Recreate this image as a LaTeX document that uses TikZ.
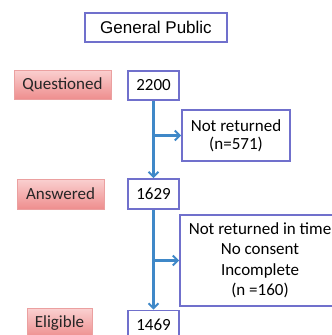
\documentclass[tikz,border=0pt]{standalone}
\usepackage{fontspec}
\setmainfont{Carlito}
\newfontfamily\arialf{Liberation Sans}
\usetikzlibrary{arrows.meta}
\definecolor{boxblue}{HTML}{7070CC}
\definecolor{arrowblue}{HTML}{3F88C8}
\definecolor{redtop}{HTML}{FAD0D0}
\definecolor{redbot}{HTML}{EE8E8E}
\definecolor{redborder}{HTML}{EBA0A0}
\begin{document}
\begin{tikzpicture}[x=1pt,y=-1pt,
  wbox/.style={draw=boxblue,line width=1.6pt,fill=white,inner sep=0pt,
    font=\fontsize{17}{18}\selectfont,text=black},
  rbox/.style={draw=redborder,line width=1pt,top color=redtop,bottom color=redbot,
    inner sep=0pt,font=\fontsize{17}{18}\selectfont,text=black!85},
  flow/.style={draw=arrowblue,line width=2.2pt,-{Straight Barb[length=5pt,width=10pt,line width=2pt]}}]
\clip (0,0) rectangle (332,335);
\fill[white] (0,0) rectangle (332,335);
\node[wbox,minimum width=142pt,minimum height=29pt,font=\arialf\fontsize{17}{18}\selectfont] (gp) at (156,27.5) {General Public};
\node[rbox,minimum width=97pt,minimum height=29pt] (q) at (62.5,84.5) {Questioned};
\node[wbox,minimum width=51pt,minimum height=29pt] (n2200) at (153.5,85.5) {2200};
\node[wbox,minimum width=108pt,minimum height=51pt,align=center] (nr) at (236,135.5) {Not returned\\(n=571)};
\node[rbox,minimum width=87pt,minimum height=30pt] (ans) at (60.5,194) {Answered};
\node[wbox,minimum width=51pt,minimum height=30pt] (n1629) at (153.5,194) {1629};
\node[wbox,minimum width=160pt,minimum height=91pt,align=center,font=\fontsize{17}{20.5}\selectfont] (ex) at (260,260.5) {Not returned in time\\No consent\\Incomplete\\(n =160)};
\node[rbox,minimum width=65pt,minimum height=29pt] (el) at (59.5,323) {Eligible};
\node[wbox,minimum width=51pt,minimum height=29pt] (n1469) at (153.5,325) {1469};
\coordinate (b1) at (n2200.south |- nr.west);
\coordinate (b2) at (n1629.south |- ex.west);
\draw[flow] (n2200.south) -- (n1629.north);
\draw[flow] (b1) -- (nr.west);
\draw[flow] (n1629.south) -- (n1469.north);
\draw[flow] (b2) -- (ex.west);
\end{tikzpicture}
\end{document}
